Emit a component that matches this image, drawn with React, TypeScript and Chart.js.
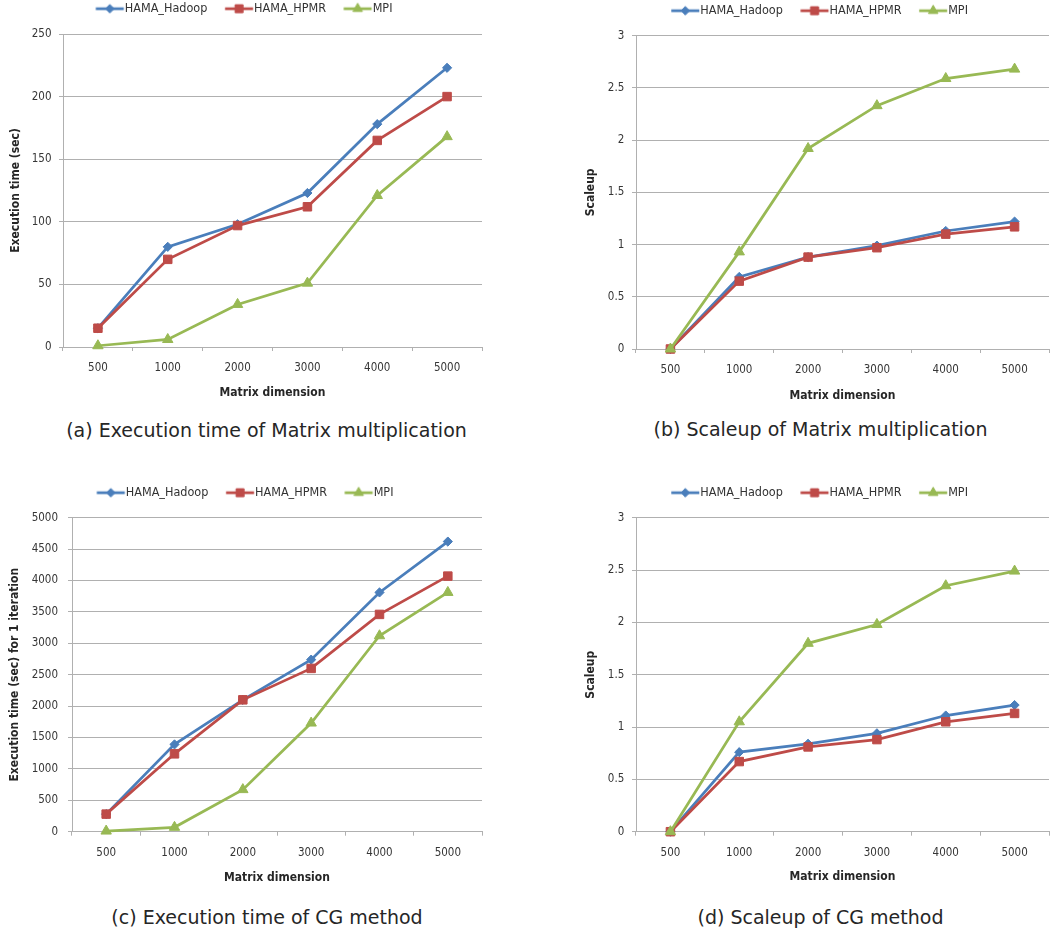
import React, { useEffect, useRef } from 'react';
import { Chart, registerables } from 'chart.js';

Chart.register(...registerables);

const CHART_FONT = '"DejaVu Sans Condensed", "DejaVu Sans", sans-serif';
const CAPTION_FONT = '"DejaVu Sans", sans-serif';
const GRID_COLOR = '#b0b0b0';
const TICK_COLOR = '#363636';
const TITLE_COLOR = '#262626';

// ---- data ----
const matrixDimensions = ['500', '1000', '2000', '3000', '4000', '5000'];
const seriesNames = ['HAMA_Hadoop', 'HAMA_HPMR', 'MPI'];

const matmulTimeHadoop = [15, 80, 98, 123, 178, 223];
const matmulTimeHpmr = [15, 70, 97, 112, 165, 200];
const matmulTimeMpi = [1, 6, 34, 51, 121, 168];

const matmulScaleHadoop = [0, 0.69, 0.88, 0.99, 1.13, 1.22];
const matmulScaleHpmr = [0, 0.65, 0.88, 0.97, 1.1, 1.17];
const matmulScaleMpi = [0, 0.93, 1.92, 2.33, 2.59, 2.68];

const cgTimeHadoop = [280, 1390, 2100, 2740, 3810, 4620];
const cgTimeHpmr = [280, 1240, 2100, 2600, 3460, 4070];
const cgTimeMpi = [10, 70, 670, 1730, 3120, 3810];

const cgScaleHadoop = [0, 0.76, 0.84, 0.94, 1.11, 1.21];
const cgScaleHpmr = [0, 0.67, 0.81, 0.88, 1.05, 1.13];
const cgScaleMpi = [0, 1.05, 1.8, 1.98, 2.35, 2.49];

// ---- styles ----
const seriesColors = ['#4a7ebb', '#be4b48', '#98b954'];
const markerStyles = ['rectRot', 'rect', 'triangle'];
const markerRadius = [4.6, 6, 6];

const LEG_FONT = 12.5;
const LEG_PAD = 2.45;
const LEG_H = LEG_FONT + LEG_PAD + 10;
const TICK_FONT = 11.5;
const AXIS_TITLE_FONT = 12;

type PanelSpec = {
  x: number; y: number; w: number; h: number;
  padR: number; padT: number; yAxisWidth: number;
  plotTop: number; plotBottom: number;
  yTitle: string; yTitlePad: number; yTickPad: number; xTitlePad: number;
  yMax: number; yStep: number;
  series: number[][];
  caption: string; capX: number; capY: number;
};

const panels: PanelSpec[] = [
  {
    x: -9, y: 0, w: 500, h: 403, padR: 9, padT: 0, yAxisWidth: 72,
    plotTop: 34, plotBottom: 347,
    yTitle: 'Execution time (sec)', yTitlePad: 17.8, yTickPad: 7.5, xTitlePad: 2.8,
    yMax: 250, yStep: 50,
    series: [matmulTimeHadoop, matmulTimeHpmr, matmulTimeMpi],
    caption: '(a) Execution time of Matrix multiplication', capX: 266.5, capY: 430,
  },
  {
    x: 568, y: 0, w: 488, h: 406, padR: 0, padT: 2, yAxisWidth: 68,
    plotTop: 35.7, plotBottom: 349,
    yTitle: 'Scaleup', yTitlePad: 15.5, yTickPad: 7.7, xTitlePad: 3.1,
    yMax: 3, yStep: 0.5,
    series: [matmulScaleHadoop, matmulScaleHpmr, matmulScaleMpi],
    caption: '(b) Scaleup of Matrix multiplication', capX: 820.5, capY: 429,
  },
  {
    x: -7, y: 470, w: 500, h: 418, padR: 11, padT: 14, yAxisWidth: 79,
    plotTop: 47.7, plotBottom: 361.7,
    yTitle: 'Execution time (sec) for 1 iteration', yTitlePad: 14.8, yTickPad: 10, xTitlePad: 3.1,
    yMax: 5000, yStep: 500,
    series: [cgTimeHadoop, cgTimeHpmr, cgTimeMpi],
    caption: '(c) Execution time of CG method', capX: 267, capY: 916.7,
  },
  {
    x: 568, y: 470, w: 488, h: 418, padR: 0, padT: 14, yAxisWidth: 68,
    plotTop: 47.7, plotBottom: 361.7,
    yTitle: 'Scaleup', yTitlePad: 15.5, yTickPad: 7.7, xTitlePad: 3.5,
    yMax: 3, yStep: 0.5,
    series: [cgScaleHadoop, cgScaleHpmr, cgScaleMpi],
    caption: '(d) Scaleup of CG method', capX: 820.5, capY: 916.7,
  },
];

function makeSwatch(i: number): HTMLCanvasElement {
  const c = document.createElement('canvas');
  c.width = 52;
  c.height = 16;
  const g = c.getContext('2d') as CanvasRenderingContext2D;
  const col = seriesColors[i];
  g.strokeStyle = col;
  g.lineWidth = 2.75;
  g.beginPath();
  g.moveTo(22.25, 8);
  g.lineTo(50.25, 8);
  g.stroke();
  const cx = 36.25;
  const cy = 8;
  g.fillStyle = col;
  g.lineWidth = 1;
  g.beginPath();
  if (i === 0) {
    const r = 4.3;
    g.moveTo(cx, cy - r); g.lineTo(cx + r, cy); g.lineTo(cx, cy + r); g.lineTo(cx - r, cy);
  } else if (i === 1) {
    const s = 4;
    g.rect(cx - s, cy - s, 2 * s, 2 * s);
  } else {
    const r = 5.5;
    g.moveTo(cx, cy - r); g.lineTo(cx + r * 0.866, cy + r / 2); g.lineTo(cx - r * 0.866, cy + r / 2);
  }
  g.closePath();
  g.fill();
  g.stroke();
  return c;
}

function Panel({ spec }: { spec: PanelSpec }) {
  const ref = useRef<HTMLCanvasElement | null>(null);
  useEffect(() => {
    if (!ref.current) return;
    const swatches = [0, 1, 2].map(makeSwatch);
    const spacer = spec.plotTop - spec.padT - LEG_H;
    const xAxisHeight = spec.h - spec.plotBottom;
    const chart = new Chart(ref.current, {
      type: 'line',
      data: {
        labels: matrixDimensions,
        datasets: spec.series.map((vals, i) => ({
          label: seriesNames[i],
          data: vals,
          borderColor: seriesColors[i],
          backgroundColor: seriesColors[i],
          borderWidth: 2.75,
          pointStyle: markerStyles[i] as any,
          pointRadius: markerRadius[i],
          pointBorderWidth: 1,
          pointBackgroundColor: seriesColors[i],
          pointBorderColor: seriesColors[i],
          tension: 0,
          order: 3 - i,
          clip: false as any,
        })),
      },
      options: {
        responsive: false,
        animation: false,
        devicePixelRatio: 1,
        events: [],
        layout: { padding: { left: 0, right: spec.padR, top: spec.padT, bottom: 0 } },
        plugins: {
          tooltip: { enabled: false },
          title: {
            display: true,
            text: '',
            weight: 500,
            padding: { top: 0, bottom: spacer },
            font: { size: 1, lineHeight: 0 },
          } as any,
          legend: {
            display: true,
            position: 'top',
            align: 'center',
            labels: {
              usePointStyle: true,
              pointStyleWidth: 38,
              padding: LEG_PAD,
              color: '#333333',
              font: { family: CHART_FONT, size: LEG_FONT },
              generateLabels: (ch: any) =>
                ch.data.datasets.map((ds: any, i: number) => ({
                  text: ds.label,
                  datasetIndex: i,
                  pointStyle: swatches[i],
                  fillStyle: 'rgba(0,0,0,0)',
                  strokeStyle: 'rgba(0,0,0,0)',
                  lineWidth: 0,
                  hidden: false,
                  fontColor: '#333333',
                })),
              sort: (a: any, b: any) => a.datasetIndex - b.datasetIndex,
            },
          },
        },
        scales: {
          x: {
            type: 'category',
            offset: true,
            grid: {
              display: true,
              drawOnChartArea: false,
              drawTicks: true,
              tickLength: 4,
              offset: true,
              color: GRID_COLOR,
              lineWidth: 1,
            },
            border: { display: true, color: GRID_COLOR, width: 1 },
            ticks: {
              font: { family: CHART_FONT, size: TICK_FONT },
              color: TICK_COLOR,
              padding: 10.1,
              maxRotation: 0,
              autoSkip: false,
            },
            title: {
              display: true,
              text: 'Matrix dimension',
              color: TITLE_COLOR,
              font: { family: CHART_FONT, size: AXIS_TITLE_FONT, weight: 'bold' },
              padding: { top: 0, bottom: spec.xTitlePad },
            },
            afterFit: (s: any) => { s.height = xAxisHeight; },
          },
          y: {
            min: 0,
            max: spec.yMax,
            grid: { color: GRID_COLOR, lineWidth: 1, drawTicks: true, tickLength: 4 },
            border: { display: true, color: GRID_COLOR, width: 1 },
            ticks: {
              stepSize: spec.yStep,
              font: { family: CHART_FONT, size: TICK_FONT },
              color: TICK_COLOR,
              padding: spec.yTickPad,
              callback: (v: any) => String(v),
            },
            title: {
              display: true,
              text: spec.yTitle,
              color: TITLE_COLOR,
              font: { family: CHART_FONT, size: AXIS_TITLE_FONT, weight: 'bold' },
              padding: { top: spec.yTitlePad, bottom: 0 },
            },
            afterFit: (s: any) => { s.width = spec.yAxisWidth; },
          },
        },
      } as any,
    });
    return () => chart.destroy();
  }, [spec]);

  return (
    <>
      <canvas
        ref={ref}
        width={spec.w}
        height={spec.h}
        style={{ position: 'absolute', left: spec.x, top: spec.y, width: spec.w, height: spec.h }}
      />
      <div
        style={{
          position: 'absolute',
          left: spec.capX - 300,
          top: spec.capY - 12,
          width: 600,
          height: 24,
          lineHeight: '24px',
          fontSize: 19,
          fontFamily: CAPTION_FONT,
          color: '#262626',
          textAlign: 'center',
          whiteSpace: 'nowrap',
        }}
      >
        {spec.caption}
      </div>
    </>
  );
}

export default function App() {
  return (
    <div
      style={{
        position: 'fixed',
        left: 0,
        top: 0,
        width: 1051,
        height: 934,
        overflow: 'hidden',
        background: '#ffffff',
      }}
    >
      {panels.map((p, i) => (
        <Panel key={i} spec={p} />
      ))}
    </div>
  );
}
